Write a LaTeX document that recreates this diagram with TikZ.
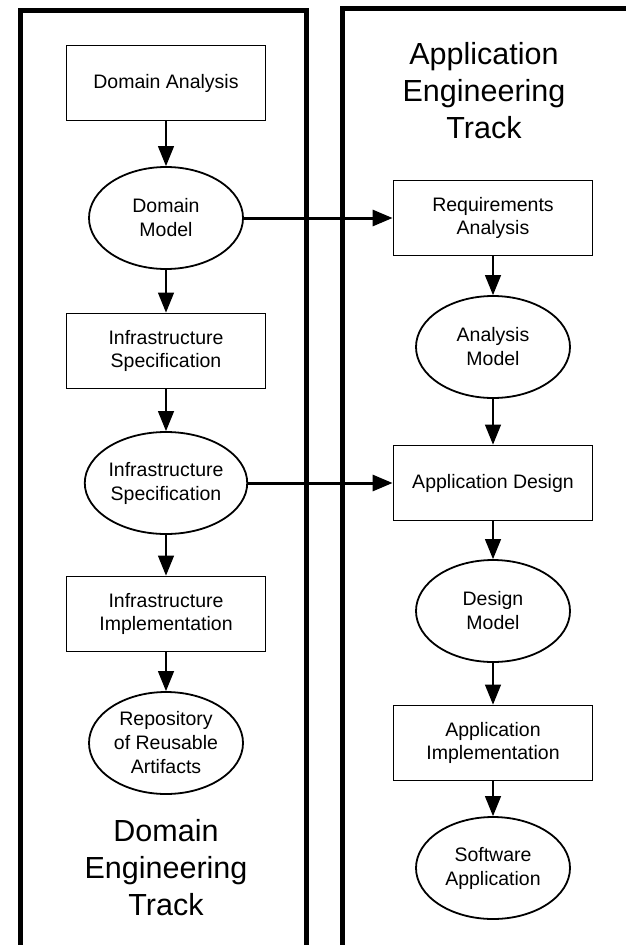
\documentclass[tikz,border=0pt]{standalone}
\usepackage{fontspec}
\setmainfont{Liberation Sans}
\usetikzlibrary{arrows.meta,shapes.geometric}

\begin{document}
\begin{tikzpicture}[x=1pt,y=-1pt,
  box/.style={draw,line width=1.8pt,minimum width=199pt,minimum height=75pt,inner sep=0pt,align=center,font=\fontsize{19.5}{23.5}\selectfont},
  oval/.style={draw,ellipse,line width=1.8pt,minimum width=154pt,minimum height=102pt,inner sep=0pt,align=center,font=\fontsize{19.5}{24}\selectfont},
  track/.style={align=center,font=\fontsize{30.5}{37}\selectfont},
  arr/.style={-{Triangle[length=20pt,width=16pt]},line width=1.2pt},
  link/.style={arr,line width=3pt}]
\useasboundingbox (0,0) rectangle (625,945);

% the two tracks
\draw[line width=5pt] (20,950) -- (20,10.5) -- (306,10.5) -- (306,950);
\draw[line width=5pt] (342.5,950) -- (342.5,8.5) -- (630,8.5);

% domain engineering
\node[box]  (da)  at (166,83)  {Domain Analysis};
\node[oval] (dm)  at (166,218) {Domain\\Model};
\node[box]  (is)  at (166,351) {Infrastructure\\Specification};
\node[oval] (isp) at (166,483) {Infrastructure\\Specification};
\node[box]  (ii)  at (166,614) {Infrastructure\\Implementation};
\node[oval] (rep) at (166,743) {Repository\\of Reusable\\Artifacts};
\node[track] (dt) at (166,868) {Domain\\Engineering\\Track};

% application engineering
\node[track] (at) at (484,91) {Application\\Engineering\\Track};
\node[box]  (ra)  at (493,218) {Requirements\\Analysis};
\node[oval] (am)  at (493,347) {Analysis\\Model};
\node[box]  (ad)  at (493,483) {Application Design};
\node[oval] (dsm) at (493,611) {Design\\Model};
\node[box]  (ai)  at (493,743) {Application\\Implementation};
\node[oval] (sa)  at (493,868) {Software\\Application};

\draw[arr] (da)--(dm); \draw[arr] (dm)--(is); \draw[arr] (is)--(isp);
\draw[arr] (isp)--(ii); \draw[arr] (ii)--(rep);
\draw[arr] (ra)--(am); \draw[arr] (am)--(ad); \draw[arr] (ad)--(dsm);
\draw[arr] (dsm)--(ai); \draw[arr] (ai)--(sa);
\draw[link] (dm)--(ra);
\draw[link] (isp)--(ad);
\end{tikzpicture}
\end{document}
